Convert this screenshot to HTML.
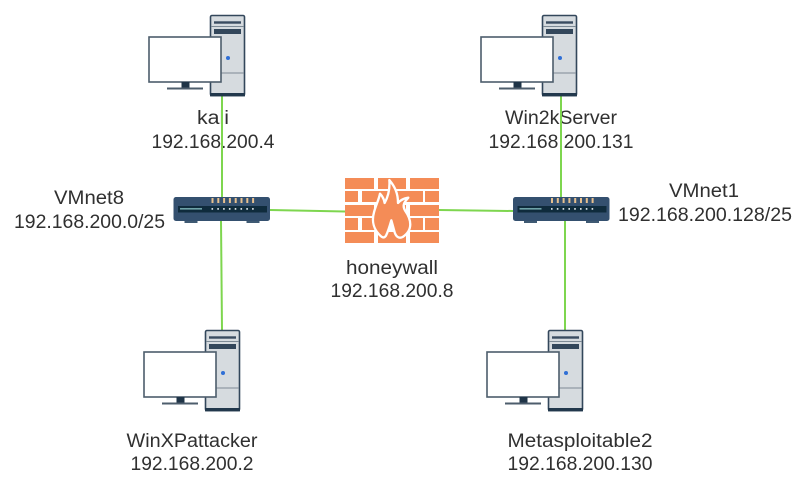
<!DOCTYPE html>
<html><head><meta charset="utf-8"><style>
html,body{margin:0;padding:0;background:#fff;width:804px;height:484px;overflow:hidden}
svg{display:block}
text{font-family:"Liberation Sans","Noto Sans CJK SC",sans-serif;font-size:19px;fill:#303030;text-anchor:middle}
</style></head><body>
<svg width="804" height="484" viewBox="0 0 804 484" xmlns="http://www.w3.org/2000/svg">
<defs>
<g id="pc">
<rect x="61.5" y="0.5" width="34" height="80" rx="1.5" fill="#d6dbdf" stroke="#33475b" stroke-width="1.6"/>
<rect x="61" y="78" width="35" height="3.4" fill="#22384c"/>
<path d="M62 11.5H95M62 58H95" stroke="#7d8a95" stroke-width="1"/>
<rect x="65" y="6.3" width="27" height="2.4" fill="#3a4c60"/>
<rect x="65" y="14" width="27" height="5" fill="#33475b"/>
<circle cx="79" cy="43" r="2" fill="#2f6fd6"/>
<rect x="0" y="22" width="72" height="45" fill="#fff" stroke="#4d5d6c" stroke-width="1.6"/>
<rect x="32.5" y="67" width="8" height="7" fill="#1f3447"/>
<rect x="18" y="72.5" width="36" height="2" fill="#4d5d6c"/>
</g>
<g id="sw">
<rect x="11" y="24" width="13" height="2" fill="#3f5a73"/>
<rect x="73" y="24" width="13" height="2" fill="#3f5a73"/>
<rect x="0" y="0" width="96.5" height="24" rx="2.5" fill="#34506f"/>
<rect x="4.5" y="9" width="89" height="6.5" fill="#0f2b3c"/>
<rect x="6.5" y="11" width="22" height="1.6" fill="#6fa3a8"/>
<g fill="#e8c08e">
<rect x="38" y="1" width="2" height="5"/><rect x="43.8" y="1" width="2" height="5"/><rect x="49.6" y="1" width="2" height="5"/><rect x="55.4" y="1" width="2" height="5"/><rect x="61.2" y="1" width="2" height="5"/><rect x="67" y="1" width="2" height="5"/><rect x="72.8" y="1" width="2" height="5"/><rect x="78.6" y="1" width="2" height="5"/>
</g>
<g fill="#d5dde0">
<rect x="38" y="11" width="1.6" height="1.8"/><rect x="43.8" y="11" width="1.6" height="1.8"/><rect x="49.6" y="11" width="1.6" height="1.8"/><rect x="55.4" y="11" width="1.6" height="1.8"/><rect x="61.2" y="11" width="1.6" height="1.8"/><rect x="67" y="11" width="1.6" height="1.8"/><rect x="72.8" y="11" width="1.6" height="1.8"/><rect x="78.6" y="11" width="1.6" height="1.8"/>
</g>
</g>
</defs>

<text x="213" y="124" textLength="32" lengthAdjust="spacingAndGlyphs">kali</text>
<text x="213" y="148" textLength="123" lengthAdjust="spacingAndGlyphs">192.168.200.4</text>
<text x="561" y="124" textLength="112" lengthAdjust="spacingAndGlyphs">Win2kServer</text>
<text x="561" y="148" textLength="145" lengthAdjust="spacingAndGlyphs">192.168.200.131</text>
<text x="89" y="204" textLength="70" lengthAdjust="spacingAndGlyphs">VMnet8</text>
<text x="89.5" y="228" textLength="151" lengthAdjust="spacingAndGlyphs">192.168.200.0/25</text>
<text x="704" y="197" textLength="70" lengthAdjust="spacingAndGlyphs">VMnet1</text>
<text x="705" y="221" textLength="174" lengthAdjust="spacingAndGlyphs">192.168.200.128/25</text>
<text x="392" y="274" textLength="92" lengthAdjust="spacingAndGlyphs">honeywall</text>
<text x="392" y="297" textLength="123" lengthAdjust="spacingAndGlyphs">192.168.200.8</text>
<text x="192" y="447" textLength="131" lengthAdjust="spacingAndGlyphs">WinXPattacker</text>
<text x="192" y="470" textLength="123" lengthAdjust="spacingAndGlyphs">192.168.200.2</text>
<text x="580" y="447" textLength="145" lengthAdjust="spacingAndGlyphs">Metasploitable2</text>
<text x="580" y="470" textLength="145" lengthAdjust="spacingAndGlyphs">192.168.200.130</text>

<g stroke="#7ed64f" stroke-width="2" fill="none">
<path d="M222 96V198"/>
<path d="M221 221L222 330"/>
<path d="M270 210L345 211.5"/>
<path d="M439 210L513 211"/>
<path d="M561 96V198"/>
<path d="M565 221V330"/>
</g>

<use href="#pc" x="149" y="15"/>
<use href="#pc" x="481" y="15"/>
<use href="#pc" x="144" y="330"/>
<use href="#pc" x="487" y="330"/>
<use href="#sw" x="173.5" y="197"/>
<use href="#sw" x="513" y="197"/>

<g fill="#f48c57">
<rect x="345" y="178" width="29" height="11"/><rect x="378" y="178" width="28" height="11"/><rect x="410" y="178" width="29" height="11"/>
<rect x="345" y="191" width="13" height="11"/><rect x="362" y="191" width="27" height="11"/><rect x="393" y="191" width="30" height="11"/><rect x="425" y="191" width="14" height="11"/>
<rect x="345" y="205" width="29" height="11"/><rect x="378" y="205" width="28" height="11"/><rect x="410" y="205" width="29" height="11"/>
<rect x="345" y="218" width="13" height="12"/><rect x="362" y="218" width="27" height="12"/><rect x="393" y="218" width="30" height="12"/><rect x="425" y="218" width="14" height="12"/>
<rect x="345" y="232" width="29" height="11"/><rect x="378" y="232" width="28" height="11"/><rect x="410" y="232" width="29" height="11"/>
</g>
<g transform="translate(360 175) scale(.3333)">
<path d="M62 183C42 165 34 140 42 112C47 92 56 76 60 56C68 64 72 72 74 84C86 62 90 40 88 15C104 34 114 54 114 84C122 74 132 70 145 68C132 82 126 92 136 108C154 134 160 165 128 186C116 192 108 184 104 172C100 158 97 146 94 136C90 150 84 170 78 182C72 190 68 188 62 183Z" fill="#f48c57" stroke="#fff" stroke-width="7" stroke-linejoin="round"/>
</g>
</svg>
</body></html>
